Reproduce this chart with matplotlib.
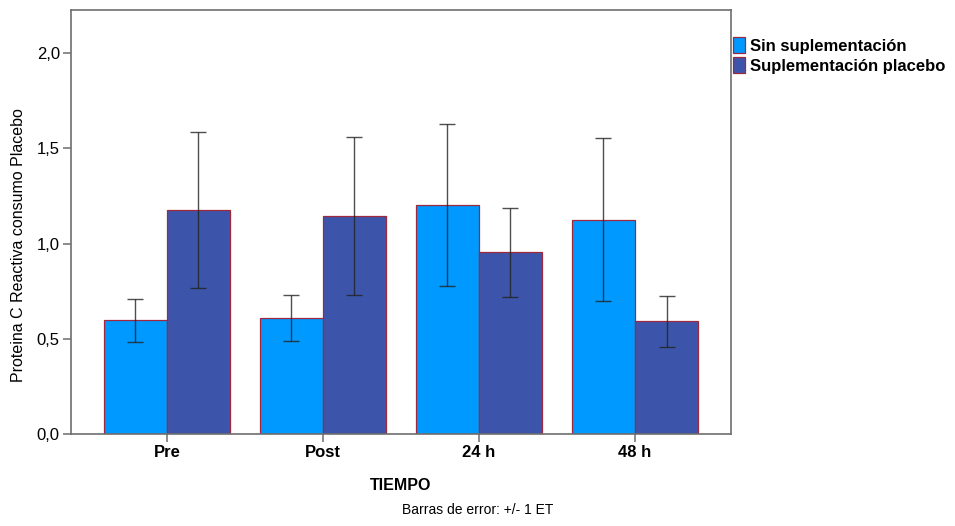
import numpy as np
import matplotlib.pyplot as plt
from matplotlib.ticker import FuncFormatter

plt.rcParams['font.family'] = ['Liberation Sans', 'DejaVu Sans']

# Datos: medias y error estandar por tiempo
tiempos = ['Pre', 'Post', '24 h', '48 h']
grupos = ['Sin suplementación', 'Suplementación placebo']
media_sin = [0.597, 0.609, 1.202, 1.124]
et_sin = [0.113, 0.121, 0.425, 0.428]
media_placebo = [1.176, 1.144, 0.955, 0.592]
et_placebo = [0.409, 0.414, 0.234, 0.134]

colores = ['#0099FF', '#3C55AA']
borde = '#A0283C'

fig = plt.figure(figsize=(9.55, 5.26), dpi=100)
ax = fig.add_axes([0.0743, 0.1749, 0.6911, 0.806])

x = np.arange(len(tiempos))
ancho = 0.404
for i, (med, et) in enumerate([(media_sin, et_sin), (media_placebo, et_placebo)]):
    pos = x + (i - 0.5) * ancho
    ax.bar(pos, med, width=ancho, color=colores[i], edgecolor=borde,
           linewidth=0.9, label=grupos[i], zorder=2)
    ax.errorbar(pos, med, yerr=et, fmt='none', ecolor='#222222', elinewidth=1.0,
                capsize=5.5, capthick=1.0, alpha=0.8, zorder=3)

ax.set_xlim(-0.615, 3.615)
ax.set_ylim(0, 2.226)
ax.set_yticks([0, 0.5, 1.0, 1.5, 2.0])
ax.yaxis.set_major_formatter(FuncFormatter(lambda v, p: f'{v:.1f}'.replace('.', ',')))
ax.set_xticks(x)
ax.set_xticklabels(tiempos)

for lab in ax.get_xticklabels():
    lab.set_fontsize(12)
    lab.set_fontweight('bold')
for lab in ax.get_yticklabels():
    lab.set_fontsize(12)

for s in ax.spines.values():
    s.set_color('#6E6E6E')
    s.set_linewidth(1.2)
ax.tick_params(axis='both', direction='out', length=6, width=1.1, color='#6E6E6E',
               pad=2)

ax.set_xlabel('TIEMPO', fontsize=11.5, fontweight='bold', labelpad=13)
ax.set_ylabel('Proteina C Reactiva consumo Placebo', fontsize=11.5, y=0.446,
              labelpad=8)

leg = ax.legend(loc='upper left', bbox_to_anchor=(1.0, 0.94), frameon=False,
                prop={'size': 12, 'weight': 'bold'}, handlelength=0.75,
                handleheight=1.1, handletextpad=0.3, borderaxespad=0.1,
                labelspacing=0.2, borderpad=0.0)

fig.text(0.5, 0.0165, 'Barras de error: +/- 1 ET', ha='center', va='bottom',
         fontsize=10)

fig.savefig('out.png', dpi=100)
